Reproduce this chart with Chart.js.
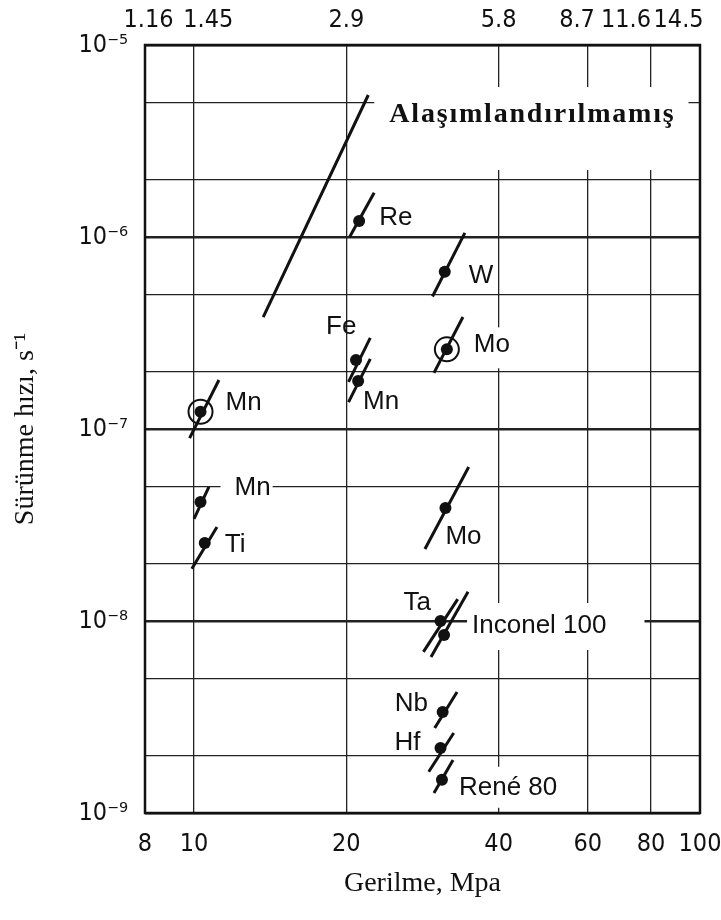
<!DOCTYPE html>
<html>
<head>
<meta charset="utf-8">
<script src="https://cdn.jsdelivr.net/npm/chart.js@4.4.0/dist/chart.umd.min.js"></script>
<style>
    html, body { margin: 0; padding: 0; background: #fff; }
    canvas { display: block; }
</style>
</head>
<body>
<canvas id="chartSurunme" width="721" height="920"></canvas>
<script>
// alloy lines: low end, high end, measured point
const alloyNames = ['Alaşımlandırılmamış', 'Re', 'W', 'Mo', 'Fe', 'Mn', 'Mn', 'Mn', 'Ti', 'Mo', 'Ta', 'Inconel 100', 'Nb', 'Hf', 'René 80'];
const stressLow  = [13.7, 20.3, 29.6, 29.8, 20.2, 20.2, 9.8, 10.0, 9.9, 28.6, 28.4, 29.4, 29.9, 29.1, 29.8];
const stressHigh = [22.1, 22.7, 34.3, 34.0, 22.3, 22.3, 11.2, 10.7, 11.1, 34.9, 33.2, 34.8, 33.1, 32.6, 32.5];
const rateLow    = [3.83e-7, 1.0e-6, 4.9e-7, 1.96e-7, 1.76e-7, 1.38e-7, 8.97e-8, 3.4e-8, 1.87e-8, 2.37e-8, 6.9e-9, 6.5e-9, 2.77e-9, 1.64e-9, 1.27e-9];
const rateHigh   = [5.49e-6, 1.70e-6, 1.05e-6, 3.83e-7, 2.98e-7, 2.32e-7, 1.80e-7, 5.0e-8, 3.09e-8, 6.34e-8, 1.30e-8, 1.42e-8, 4.27e-9, 2.61e-9, 1.89e-9];
const dotStress  = [null, 21.2, 31.3, 31.6, 20.9, 21.1, 10.3, 10.3, 10.5, 31.4, 30.7, 31.2, 31.0, 30.7, 30.9];
const dotRate    = [null, 1.21e-6, 6.6e-7, 2.6e-7, 2.29e-7, 1.78e-7, 1.23e-7, 4.17e-8, 2.55e-8, 3.88e-8, 1.0e-8, 8.45e-9, 3.36e-9, 2.18e-9, 1.49e-9];
const circled    = [false, false, false, true, false, false, true, false, false, false, false, false, false, false, false];

const stressTicks = [8, 10, 20, 40, 60, 80, 100];
const ksiTicks = [1.16, 1.45, 2.9, 5.8, 8.7, 11.6, 14.5];
const ksiTickLabels = [' 1.16', '    1.45', '2.9', '5.8', '8.7   ', '11.6       ', '14.5      '];
const rateTicks = [1e-9, 2e-9, 5e-9, 1e-8, 2e-8, 5e-8, 1e-7, 2e-7, 5e-7, 1e-6, 2e-6, 5e-6, 1e-5];
const rateTickLabels = ['10⁻⁹', '', '', '10⁻⁸', '', '', '10⁻⁷', '', '', '10⁻⁶', '', '', '10⁻⁵'];

const tickFont = "'Liberation Sans Narrow', 'DejaVu Sans Condensed', sans-serif";
const sansLabel = "26px 'Liberation Sans', Arial, sans-serif";

// label placement relative to the point (px), bg = white box padding [l, t, r, b]
const labelStyles = [
    { dx: 21, dy: 20, font: "bold 28px 'Liberation Serif', serif", spacing: '1.8px', bg: [15, 28, 13, 55] },
    { dx: 20, dy: -3 },
    { dx: 24, dy: 4 },
    { dx: 27, dy: -4, bg: [2, 18, 2, 23] },
    { dx: -30, dy: -33 },
    { dx: 5, dy: 21 },
    { dx: 25, dy: -9 },
    { dx: 34, dy: -14, bg: [14, 12, 2, 12] },
    { dx: 20, dy: 2 },
    { dx: 0, dy: 29 },
    { dx: -37, dy: -18 },
    { dx: 28, dy: -9, bg: [5, 23, 38, 24] },
    { dx: -48, dy: -8 },
    { dx: -46, dy: -5 },
    { dx: 17, dy: 8, bg: [2, 21, 2, 20] }
];

function noEdgePadding(scale) {
    scale.paddingLeft = 0;
    scale.paddingRight = 0;
    scale.paddingTop = 0;
    scale.paddingBottom = 0;
}

const labelPlugin = {
    id: 'alloyLabels',
    beforeDatasetsDraw(chart) {
        const ctx = chart.ctx;
        const x = chart.scales.x, y = chart.scales.y;
        ctx.save();
        alloyNames.forEach(function(name, i) {
            const st = labelStyles[i];
            const px = x.getPixelForValue(dotStress[i] !== null ? dotStress[i] : stressHigh[i]);
            const py = y.getPixelForValue(dotRate[i] !== null ? dotRate[i] : rateHigh[i]);
            ctx.font = st.font || sansLabel;
            ctx.letterSpacing = st.spacing || '0px';
            const w = ctx.measureText(name).width;
            const tx = px + st.dx, ty = py + st.dy;
            if (st.bg) {
                ctx.fillStyle = '#fff';
                ctx.fillRect(tx - st.bg[0], ty - st.bg[1], w + st.bg[0] + st.bg[2], st.bg[1] + st.bg[3]);
            }
            ctx.fillStyle = '#111';
            ctx.textAlign = 'left';
            ctx.textBaseline = 'middle';
            ctx.fillText(name, tx, ty);
        });
        ctx.letterSpacing = '0px';
        ctx.restore();
    },
    afterDraw(chart) {
        const a = chart.chartArea, ctx = chart.ctx;
        ctx.save();
        ctx.strokeStyle = '#111';
        ctx.lineWidth = 2.5;
        ctx.strokeRect(a.left, a.top, a.right - a.left, a.bottom - a.top);
        ctx.restore();
    }
};

const datasets = [];
alloyNames.forEach(function(name, i) {
    datasets.push({
        label: name,
        data: [{ x: stressLow[i], y: rateLow[i] }, { x: stressHigh[i], y: rateHigh[i] }],
        showLine: true,
        borderColor: '#111',
        borderWidth: 3,
        pointRadius: 0
    });
});
datasets.push({
    label: 'points',
    data: dotStress.map(function(s, i) { return { x: s, y: dotRate[i] }; }).filter(function(p) { return p.x !== null; }),
    pointRadius: 6,
    backgroundColor: '#111',
    borderColor: '#111',
    borderWidth: 0
});
datasets.push({
    label: 'circled',
    data: dotStress.map(function(s, i) { return { x: s, y: dotRate[i] }; }).filter(function(p, i) { return circled[i]; }),
    pointRadius: 12,
    backgroundColor: 'rgba(0,0,0,0)',
    borderColor: '#111',
    borderWidth: 2
});

const ctxSurunme = document.getElementById('chartSurunme').getContext('2d');
const chartSurunme = new Chart(ctxSurunme, {
    type: 'scatter',
    data: { datasets: datasets },
    plugins: [labelPlugin],
    options: {
        responsive: false,
        animation: false,
        devicePixelRatio: 1,
        layout: { padding: { left: 0, right: 21, top: 0, bottom: 0 } },
        plugins: { legend: { display: false }, tooltip: { enabled: false } },
        scales: {
            x: {
                type: 'logarithmic',
                position: 'bottom',
                min: 8,
                max: 100,
                afterBuildTicks: function(scale) { scale.ticks = stressTicks.map(function(v) { return { value: v }; }); },
                afterFit: function(scale) { scale.height = 107; noEdgePadding(scale); },
                ticks: {
                    autoSkip: false,
                    maxRotation: 0,
                    padding: 16,
                    color: '#111',
                    font: { family: tickFont, size: 25 },
                    callback: function(value, index) { return String(stressTicks[index]); }
                },
                grid: { color: '#222', lineWidth: 1.3, drawTicks: false },
                border: { display: false },
                title: {
                    display: true,
                    text: 'Gerilme, Mpa',
                    color: '#111',
                    font: { family: "'Liberation Serif', serif", size: 28 },
                    padding: { top: 0, bottom: 20 }
                }
            },
            x2: {
                type: 'logarithmic',
                position: 'top',
                min: 1.16,
                max: 14.5,
                afterBuildTicks: function(scale) { scale.ticks = ksiTicks.map(function(v) { return { value: v }; }); },
                afterFit: function(scale) { scale.height = 45; noEdgePadding(scale); },
                ticks: {
                    autoSkip: false,
                    maxRotation: 0,
                    padding: 10,
                    color: '#111',
                    font: { family: tickFont, size: 25 },
                    callback: function(value, index) { return ksiTickLabels[index]; }
                },
                grid: { display: false, drawTicks: false },
                border: { display: false }
            },
            y: {
                type: 'logarithmic',
                position: 'left',
                min: 1e-9,
                max: 1e-5,
                afterBuildTicks: function(scale) { scale.ticks = rateTicks.map(function(v) { return { value: v }; }); },
                afterFit: function(scale) { scale.width = 145; noEdgePadding(scale); },
                ticks: {
                    autoSkip: false,
                    padding: 17,
                    color: '#111',
                    font: { family: tickFont, size: 25 },
                    callback: function(value, index) { return rateTickLabels[index]; }
                },
                grid: {
                    color: '#222',
                    drawTicks: false,
                    lineWidth: function(c) { return rateTickLabels[c.index] ? 2.4 : 1.3; }
                },
                border: { display: false },
                title: {
                    display: true,
                    text: 'Sürünme hızı, s⁻¹',
                    color: '#111',
                    font: { family: "'Liberation Serif', serif", size: 28 },
                    padding: { top: 9, bottom: 0 }
                }
            }
        }
    }
});
</script>
</body>
</html>
